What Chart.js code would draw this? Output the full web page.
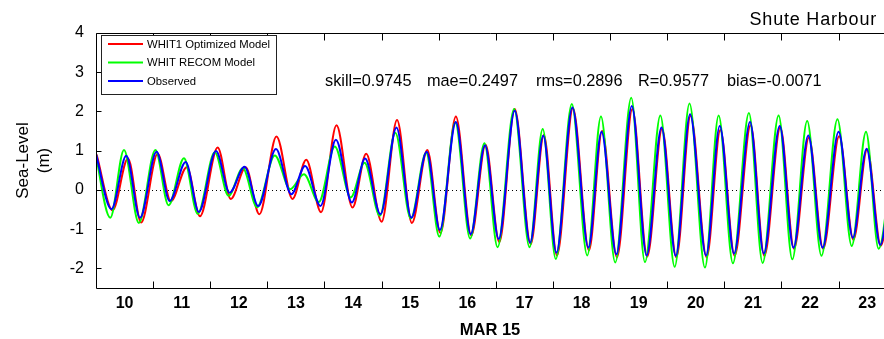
<!DOCTYPE html>
<html>
<head>
<meta charset="utf-8">
<script src="https://cdn.jsdelivr.net/npm/chart.js@4/dist/chart.umd.min.js"></script>
<style>
  html, body { margin: 0; padding: 0; background: #fff; }
  canvas { display: block; }
</style>
</head>
<body>
<canvas id="c" width="884" height="339"></canvas>
<script>
// tide extremes (day of March 2015, metres)
const obsDays = [9.99, 10.27, 10.53, 10.77, 11.06, 11.29, 11.57, 11.80, 12.10, 12.34, 12.60, 12.84, 13.15, 13.42, 13.66, 13.93, 14.20, 14.48, 14.71, 14.98, 15.26, 15.52, 15.79, 16.02, 16.30, 16.56, 16.81, 17.05, 17.33, 17.60, 17.83, 18.06, 18.34, 18.62, 18.85, 19.11, 19.38, 19.64, 19.90, 20.15, 20.40, 20.68, 20.92, 21.17, 21.45, 21.69, 21.97, 22.21, 22.47, 22.72, 23.00, 23.25, 23.49, 23.73, 23.98];
const obsLevel = [0.97, -0.49, 0.87, -0.71, 0.97, -0.28, 0.71, -0.56, 0.99, -0.07, 0.59, -0.41, 1.04, -0.11, 0.61, -0.41, 1.28, -0.32, 0.80, -0.62, 1.59, -0.71, 0.97, -1.02, 1.73, -1.13, 1.14, -1.25, 2.02, -1.34, 1.38, -1.60, 2.10, -1.47, 1.48, -1.64, 2.14, -1.67, 1.59, -1.68, 1.93, -1.67, 1.63, -1.62, 1.73, -1.62, 1.63, -1.47, 1.39, -1.47, 1.48, -1.22, 1.05, -1.40, 1.60];

const optDays = [10.01, 10.29, 10.56, 10.79, 11.08, 11.31, 11.59, 11.82, 12.13, 12.36, 12.62, 12.86, 13.16, 13.44, 13.68, 13.94, 14.21, 14.49, 14.73, 15.00, 15.27, 15.53, 15.80, 16.03, 16.30, 16.57, 16.82, 17.06, 17.33, 17.61, 17.84, 18.07, 18.35, 18.63, 18.86, 19.12, 19.39, 19.65, 19.91, 20.16, 20.41, 20.69, 20.93, 21.18, 21.46, 21.70, 21.98, 22.22, 22.48, 22.73, 23.01, 23.26, 23.50, 23.74, 23.99];
const optLevel = [0.90, -0.52, 0.80, -0.83, 0.92, -0.29, 0.58, -0.67, 1.08, -0.23, 0.58, -0.62, 1.36, -0.23, 0.77, -0.57, 1.65, -0.45, 0.92, -0.81, 1.78, -0.84, 1.02, -1.10, 1.87, -1.16, 1.15, -1.33, 2.06, -1.38, 1.40, -1.67, 2.08, -1.54, 1.50, -1.72, 2.06, -1.70, 1.55, -1.72, 1.89, -1.72, 1.53, -1.68, 1.65, -1.68, 1.59, -1.50, 1.33, -1.50, 1.37, -1.27, 1.03, -1.42, 1.50];

const recDays = [9.97, 10.25, 10.49, 10.75, 11.04, 11.27, 11.54, 11.78, 12.08, 12.32, 12.57, 12.82, 13.13, 13.40, 13.64, 13.90, 14.18, 14.46, 14.70, 14.97, 15.24, 15.51, 15.78, 16.01, 16.29, 16.55, 16.80, 17.03, 17.32, 17.59, 17.82, 18.05, 18.33, 18.60, 18.84, 19.09, 19.37, 19.61, 19.88, 20.13, 20.39, 20.66, 20.90, 21.15, 21.43, 21.67, 21.95, 22.19, 22.45, 22.70, 22.98, 23.23, 23.48, 23.70, 24.00];
const recLevel = [1.10, -0.71, 1.02, -0.84, 1.02, -0.39, 0.81, -0.61, 0.96, -0.15, 0.55, -0.44, 0.88, 0.02, 0.40, -0.31, 1.11, -0.19, 0.69, -0.66, 1.46, -0.73, 0.95, -1.19, 1.72, -1.24, 1.19, -1.46, 2.06, -1.46, 1.55, -1.76, 2.19, -1.67, 1.87, -1.85, 2.35, -1.84, 1.90, -1.96, 2.20, -1.98, 1.90, -1.87, 1.96, -1.86, 1.90, -1.77, 1.76, -1.68, 1.80, -1.43, 1.48, -1.50, 1.80];

const dayLabels = [10, 11, 12, 13, 14, 15, 16, 17, 18, 19, 20, 21, 22, 23];
const levelTicks = [-2, -1, 0, 1, 2, 3, 4];
const statNames = ['skill=0.9745', 'mae=0.2497', 'rms=0.2896', 'R=0.9577', 'bias=-0.0071'];
const legendNames = ['WHIT1 Optimized Model', 'WHIT RECOM Model', 'Observed'];

const FONT = '"Liberation Sans", Arial, Helvetica, sans-serif';

function pts(days, vals) {
    return days.map((d, i) => ({ x: d, y: vals[i] }));
}

function series(label, days, vals, color, order) {
    return {
        label: label,
        data: pts(days, vals),
        borderColor: color,
        borderWidth: 2,
        pointRadius: 0,
        fill: false,
        cubicInterpolationMode: 'monotone',
        order: order
    };
}

// frame, inward ticks, zero line, legend box, stats and station name
const decor = {
    id: 'decor',
    beforeDatasetsDraw(chart) {
        const { ctx, chartArea: a, scales: { y } } = chart;
        const y0 = Math.round(y.getPixelForValue(0)) + 0.5;
        ctx.save();
        ctx.strokeStyle = '#000';
        ctx.lineWidth = 1;
        ctx.setLineDash([1, 3]);
        ctx.beginPath();
        ctx.moveTo(a.left, y0);
        ctx.lineTo(a.right, y0);
        ctx.stroke();
        ctx.restore();
    },
    afterDatasetsDraw(chart) {
        const { ctx, chartArea: a, scales: { x, y } } = chart;
        const L = Math.round(a.left) + 0.5, T = Math.round(a.top) + 0.5, B = Math.round(a.bottom) + 0.5;
        ctx.save();
        ctx.strokeStyle = '#000';
        ctx.lineWidth = 1;
        ctx.beginPath();
        ctx.moveTo(a.right, T); ctx.lineTo(L, T); ctx.lineTo(L, B); ctx.lineTo(a.right, B);
        for (let d = dayLabels[0] + 1; d <= dayLabels[dayLabels.length - 1]; d++) {
            const px = Math.round(x.getPixelForValue(d)) + 0.5;
            ctx.moveTo(px, B); ctx.lineTo(px, B - 7);
            ctx.moveTo(px, T); ctx.lineTo(px, T + 7);
        }
        levelTicks.forEach(v => {
            const py = Math.round(y.getPixelForValue(v)) + 0.5;
            ctx.moveTo(L, py); ctx.lineTo(L + 5, py);
        });
        ctx.stroke();
        ctx.restore();
    },
    afterDraw(chart) {
        const { ctx } = chart;
        ctx.save();
        // legend
        ctx.fillStyle = '#fff';
        ctx.fillRect(102, 36, 175, 59);
        ctx.strokeStyle = '#222';
        ctx.lineWidth = 1;
        ctx.strokeRect(101.5, 35.5, 175, 59);
        const cols = ['#ff0000', '#00ff00', '#0000ff'];
        const rows = [44, 62.5, 81];
        ctx.font = '11.3px ' + FONT;
        ctx.textBaseline = 'middle';
        ctx.textAlign = 'left';
        legendNames.forEach((name, i) => {
            ctx.strokeStyle = cols[i];
            ctx.lineWidth = 2;
            ctx.beginPath();
            ctx.moveTo(108, rows[i]);
            ctx.lineTo(143, rows[i]);
            ctx.stroke();
            ctx.fillStyle = '#000';
            ctx.fillText(name, 147, rows[i] + 0.5);
        });
        // stats
        ctx.font = '16.3px ' + FONT;
        const statX = [325, 427, 536, 638, 727];
        statNames.forEach((s, i) => ctx.fillText(s, statX[i], 82));
        // station
        ctx.font = '18px ' + FONT;
        ctx.letterSpacing = '0.8px';
        ctx.textAlign = 'right';
        ctx.fillText('Shute Harbour', 877, 20);
        ctx.restore();
    }
};

new Chart(document.getElementById('c'), {
    type: 'line',
    data: {
        datasets: [
            series(legendNames[0], optDays, optLevel, '#ff0000', 3),
            series(legendNames[1], recDays, recLevel, '#00ff00', 2),
            series(legendNames[2], obsDays, obsLevel, '#0000ff', 1)
        ]
    },
    options: {
        responsive: false,
        devicePixelRatio: 1,
        animation: false,
        layout: { padding: { top: 33, right: 0, bottom: 0, left: 0 } },
        plugins: { legend: { display: false }, tooltip: { enabled: false } },
        scales: {
            x: {
                type: 'linear',
                min: 10,
                max: 23.795,
                afterFit: s => { s.height = 51; },
                afterBuildTicks: s => { s.ticks = dayLabels.map(d => ({ value: d + 0.5 })); },
                grid: { display: false, drawTicks: false },
                border: { display: false },
                ticks: {
                    autoSkip: false,
                    maxRotation: 0,
                    padding: 6,
                    color: '#000',
                    font: { family: FONT, size: 16, weight: 'bold' },
                    callback: v => String(Math.floor(v))
                },
                title: {
                    display: true,
                    text: 'MAR 15',
                    color: '#000',
                    padding: { top: 0, bottom: 0 },
                    font: { family: FONT, size: 16.5, weight: 'bold', lineHeight: 1.05 }
                }
            },
            y: {
                min: -2.5,
                max: 4,
                afterFit: s => { s.width = 96; },
                afterBuildTicks: s => { s.ticks = levelTicks.map(v => ({ value: v })); },
                grid: { display: false, drawTicks: false },
                border: { display: false },
                ticks: {
                    padding: 12,
                    color: '#000',
                    font: { family: FONT, size: 16 }
                },
                title: {
                    display: true,
                    text: ['Sea-Level', '(m)'],
                    color: '#000',
                    padding: { top: 13, bottom: 0 },
                    font: { family: FONT, size: 17, lineHeight: 1.24 }
                }
            }
        }
    },
    plugins: [decor]
});
</script>
</body>
</html>
